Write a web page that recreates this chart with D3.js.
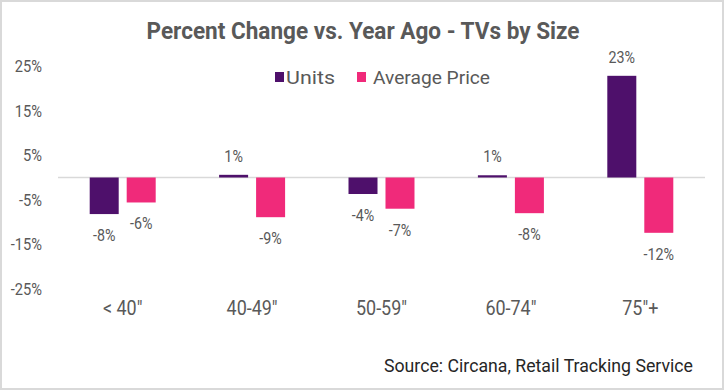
<!DOCTYPE html>
<html lang="en">
<head>
    <meta charset="UTF-8">
    <title>Percent Change vs. Year Ago - TVs by Size</title>
    <script src="https://d3js.org/d3.v7.min.js"></script>
    <style>
        body {
            margin: 0;
            padding: 0;
            background: #fff;
        }

        svg {
            display: block;
            font-family: Roboto, "Noto Sans", sans-serif;
        }
    </style>
</head>
<body>
    <svg id="chart" width="726" height="391"></svg>

    <script>
        // data
        const categories = ['< 40"', '40-49"', '50-59"', '60-74"', '75"+'];
        const seriesNames = ["Units", "Average Price"];
        const units = [-8.2, 0.6, -3.7, 0.5, 22.8];
        const avgPrice = [-5.6, -8.9, -7.0, -8.0, -12.4];
        const tickValues = [25, 15, 5, -5, -15, -25];

        const colors = { "Units": "#4e106b", "Average Price": "#f02a7a" };

        const width = 726, height = 391;
        const margin = { top: 66, right: 21, bottom: 102, left: 58 };

        const svg = d3.select("#chart");

        // the original uses a condensed face; squeeze Roboto horizontally
        function condense(sel, f) {
            sel.each(function () {
                const w = this.getComputedTextLength();
                d3.select(this)
                    .attr("textLength", w * f)
                    .attr("lengthAdjust", "spacingAndGlyphs");
            });
        }

        // light frame
        svg.append("rect")
            .attr("x", 1).attr("y", 1)
            .attr("width", width - 4).attr("height", height - 3)
            .attr("fill", "#fff")
            .attr("stroke", "#d9d9d9")
            .attr("stroke-width", 2);

        const x0 = d3.scaleBand()
            .domain(categories)
            .range([margin.left, width - margin.right])
            .paddingInner(0.49)
            .paddingOuter(0.245);

        const x1 = d3.scaleBand()
            .domain(seriesNames)
            .range([0, x0.bandwidth()])
            .paddingInner(0.216);

        const y = d3.scaleLinear()
            .domain([-25, 25])
            .range([height - margin.bottom, margin.top]);

        // title
        svg.append("text")
            .attr("x", 363)
            .attr("y", 39)
            .attr("text-anchor", "middle")
            .attr("font-size", 23)
            .attr("font-weight", "bold")
            .attr("fill", "#595959")
            .attr("textLength", 433)
            .attr("lengthAdjust", "spacingAndGlyphs")
            .text("Percent Change vs. Year Ago - TVs by Size");

        // y axis labels only, no line
        const yAxis = d3.axisLeft(y)
            .tickValues(tickValues)
            .tickFormat(d => d + "%")
            .tickSize(0)
            .tickPadding(0);

        svg.append("g")
            .attr("transform", `translate(42,0)`)
            .call(yAxis)
            .call(g => g.select(".domain").remove())
            .call(g => g.selectAll("text")
                .attr("font-family", "Roboto, sans-serif")
                .attr("font-size", 17)
                .attr("fill", "#595959")
                .call(condense, 0.86));

        // zero line
        svg.append("line")
            .attr("x1", margin.left).attr("x2", width - margin.right)
            .attr("y1", y(0)).attr("y2", y(0))
            .attr("stroke", "#d9d9d9")
            .attr("stroke-width", 1.5);

        const rows = categories.map((c, i) => ({
            category: c,
            values: [
                { key: "Units", value: units[i] },
                { key: "Average Price", value: avgPrice[i] }
            ]
        }));

        const groups = svg.append("g")
            .selectAll("g")
            .data(rows)
            .join("g")
            .attr("transform", d => `translate(${x0(d.category)},0)`);

        groups.selectAll("rect")
            .data(d => d.values)
            .join("rect")
            .attr("x", d => x1(d.key))
            .attr("width", x1.bandwidth())
            .attr("y", d => y(Math.max(0, d.value)))
            .attr("height", d => Math.abs(y(d.value) - y(0)))
            .attr("fill", d => colors[d.key]);

        groups.selectAll("text.value")
            .data(d => d.values)
            .join("text")
            .attr("class", "value")
            .attr("x", d => x1(d.key) + x1.bandwidth() / 2)
            .attr("y", d => d.value >= 0 ? y(d.value) - 13 : y(d.value) + 27)
            .attr("text-anchor", "middle")
            .attr("font-size", 17)
            .attr("fill", "#595959")
            .text(d => Math.round(d.value) + "%")
            .call(condense, 0.84);

        // category labels
        const xAxis = d3.axisBottom(x0).tickSize(0).tickPadding(0);
        svg.append("g")
            .attr("transform", `translate(0,301)`)
            .call(xAxis)
            .call(g => g.select(".domain").remove())
            .call(g => g.selectAll("text")
                .attr("font-family", "Roboto, sans-serif")
                .attr("font-size", 19.5)
                .attr("fill", "#595959")
                .call(condense, 0.92));

        // legend
        const legendItems = [
            { key: "Units", x: 275, tx: 286, w: 49 },
            { key: "Average Price", x: 357, tx: 373, w: 117 }
        ];
        const legend = svg.append("g");
        legend.selectAll("rect")
            .data(legendItems)
            .join("rect")
            .attr("x", d => d.x)
            .attr("y", 72)
            .attr("width", 9)
            .attr("height", 10)
            .attr("fill", d => colors[d.key]);
        legend.selectAll("text")
            .data(legendItems)
            .join("text")
            .attr("x", d => d.tx)
            .attr("y", 84)
            .attr("font-size", 19)
            .attr("fill", "#595959")
            .attr("textLength", d => d.w)
            .attr("lengthAdjust", "spacingAndGlyphs")
            .text(d => d.key);

        // source note
        svg.append("text")
            .attr("x", 693)
            .attr("y", 372)
            .attr("text-anchor", "end")
            .attr("font-size", 18)
            .attr("fill", "#262626")
            .attr("textLength", 309)
            .attr("lengthAdjust", "spacingAndGlyphs")
            .text("Source: Circana, Retail Tracking Service");
    </script>
</body>
</html>
